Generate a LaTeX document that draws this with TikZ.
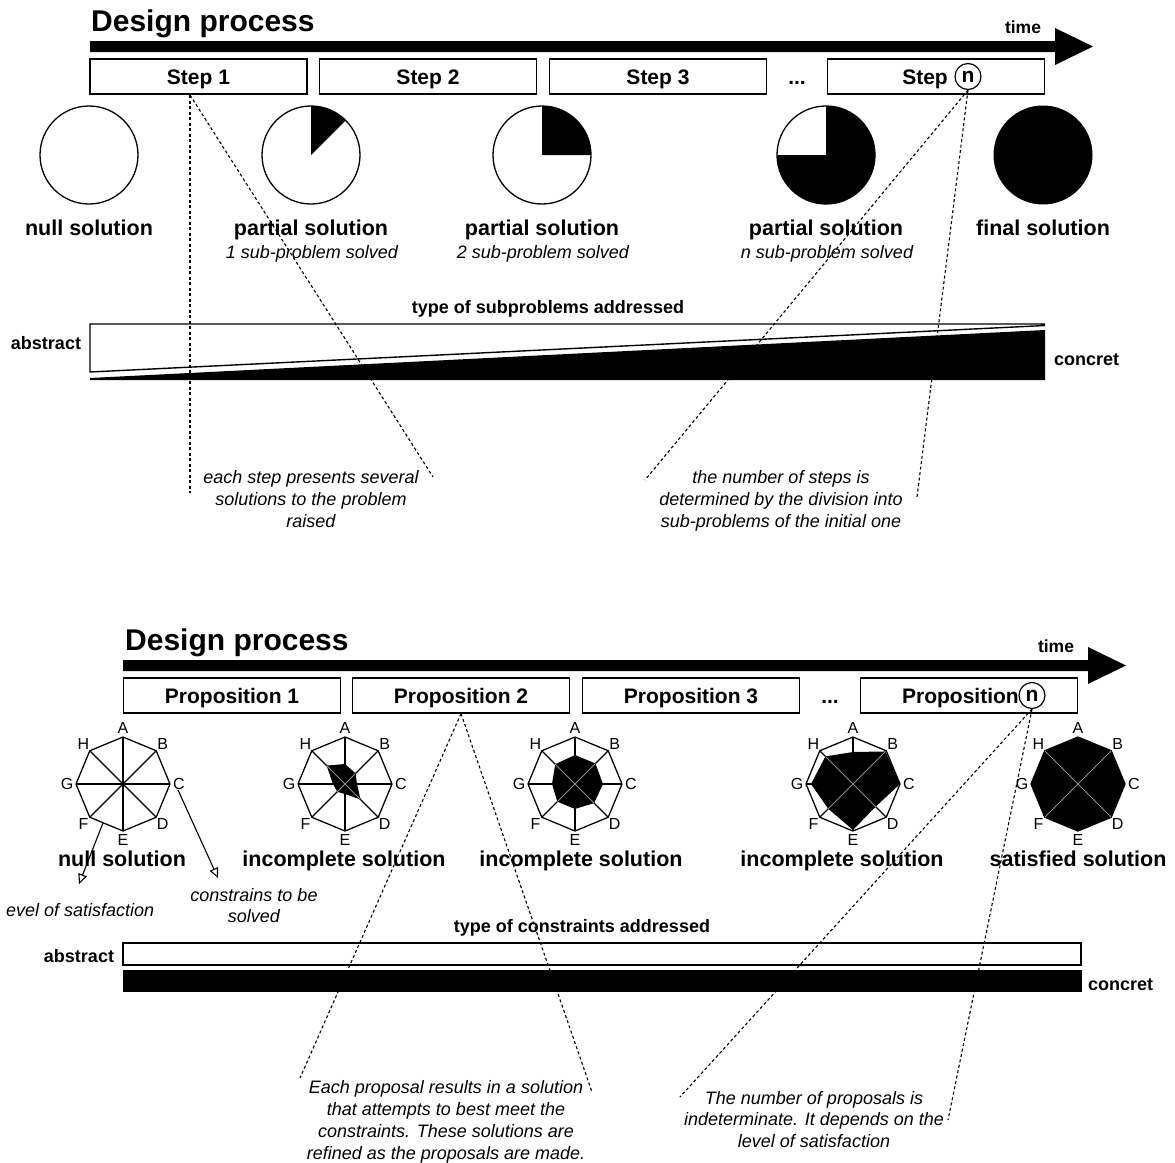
\documentclass[tikz,border=0pt]{standalone}
\usepackage{fontspec}
\setmainfont{Liberation Sans}
\usetikzlibrary{arrows.meta}
\newcommand\myoctagon[1]{%
  \draw[line width=1.3pt,line join=round] (90:47pt)--(45:47pt)--(0:47pt)--(-45:47pt)--(-90:47pt)--(-135:47pt)--(180:47pt)--(135:47pt)--cycle;
  \foreach \ang in {90,45,0,-45}{\draw[line width=1.1pt] (\ang:47pt)--(\ang+180:47pt);}
  \foreach \ang/\l in {90/A,45/B,0/C,-45/D,-90/E,-135/F,180/G,135/H}{\node[rl] (#1\l) at (\ang:56pt) {\l};}
}
\newcommand\mydiag{\draw[black!45,line width=0.8pt] (135:47pt)--(-45:47pt) (45:47pt)--(-135:47pt);}
\begin{document}
\begin{tikzpicture}[x=1pt,y=-1pt,
  box/.style={draw,line width=1.2pt,minimum width=217pt,minimum height=35pt,inner sep=0pt},
  ttl/.style={font=\fontsize{30}{36}\selectfont\bfseries,anchor=base west,inner sep=0pt},
  bl/.style={font=\fontsize{21}{25}\selectfont\bfseries,anchor=base,inner sep=0pt},
  sol/.style={font=\fontsize{21.5}{26}\selectfont\bfseries,anchor=base,inner sep=0pt},
  sub/.style={font=\fontsize{18}{21}\selectfont\itshape,anchor=base,inner sep=0pt},
  sm/.style={font=\fontsize{18}{21}\selectfont\bfseries,anchor=base,inner sep=0pt},
  tm/.style={font=\fontsize{17.5}{21}\selectfont\bfseries,anchor=base,inner sep=0pt},
  note/.style={font=\fontsize{18}{21.75}\selectfont\itshape,align=center,anchor=north,inner sep=0pt},
  rl/.style={font=\fontsize{16}{18}\selectfont,inner sep=0pt},
  ncirc/.style={draw,circle,line width=1.2pt,minimum size=26pt,inner sep=0pt,font=\fontsize{21}{25}\selectfont\bfseries},
  dsh/.style={dash pattern=on 3pt off 2.5pt,line width=1.1pt},
  pie/.style={line width=1.3pt}
]
\useasboundingbox (0,0) rectangle (1175,1162);

%================ TOP =================
\node[ttl] (t1) at (91,31) {Design process};
\node[tm] (time1) at (1023,33) {time};
\fill (90,41) -- (1055,41) -- (1055,28) -- (1093,46.5) -- (1055,65) -- (1055,52) -- (90,52) -- cycle;

\node[box] (s1) at (198.5,76.5) {};
\node[box] (s2) at (428,76.5) {};
\node[box] (s3) at (658,76.5) {};
\node[box] (sn) at (936,76.5) {};
\node[bl] (s1l) at (198.5,84) {Step 1};
\node[bl] (s2l) at (428,84) {Step 2};
\node[bl] (s3l) at (658,84) {Step 3};
\node[bl] (dots1) at (797,84) {...};
\node[bl,anchor=base east] (snl) at (948,84) {Step};
\node[ncirc] (nc1) at (968,76.5) {n};

% pies
\begin{scope}[shift={(89,155)},y=1pt]
  \draw[pie] (0,0) circle[radius=49pt];
\end{scope}
\begin{scope}[shift={(311,155)},y=1pt]
  \draw[pie] (0,0) circle[radius=49pt];
  \fill (0,0) -- (90:49pt) arc[start angle=90,end angle=45,radius=49pt] -- cycle;
\end{scope}
\begin{scope}[shift={(542,155)},y=1pt]
  \draw[pie] (0,0) circle[radius=49pt];
  \fill (0,0) -- (90:49pt) arc[start angle=90,end angle=0,radius=49pt] -- cycle;
\end{scope}
\begin{scope}[shift={(826,155)},y=1pt]
  \draw[pie] (0,0) circle[radius=49pt];
  \fill (0,0) -- (90:49pt) arc[start angle=90,end angle=-180,radius=49pt] -- cycle;
\end{scope}
\begin{scope}[shift={(1043,155)},y=1pt]
  \fill (0,0) circle[radius=49.5pt];
\end{scope}

\node[sol] (l1) at (89,235) {null solution};
\node[sol] (l2) at (311,235) {partial solution};
\node[sol] (l3) at (542,235) {partial solution};
\node[sol] (l4) at (826,235) {partial solution};
\node[sol] (l5) at (1043,235) {final solution};
\node[sub] (u2) at (312,258) {1 sub-problem solved};
\node[sub] (u3) at (543,258) {2 sub-problem solved};
\node[sub] (u4) at (827,258) {n sub-problem solved};

\node[sm] (typ1) at (548,313) {type of subproblems addressed};
\node[sm] (abs1) at (46,349) {abstract};
\node[sm] (con1) at (1086.5,365) {concret};
\draw[line width=1.4pt,line join=miter] (1045,324) -- (90,324) -- (90,372) -- (1045,325.5);
\fill (90,378) -- (1045,330) -- (1045,380) -- (90,380) -- cycle;

\node[note] (n1) at (311,470.5) {each step presents several\\solutions to the problem\\raised};
\node[note] (n2) at (781,470.5) {the number of steps is\\determined by the division into\\sub-problems of the initial one};

\coordinate (d0) at (190,95);
\coordinate (d1) at (190,493);
\coordinate (d2) at (433,477);
\coordinate (d3) at (645,480);
\coordinate (d4) at (917,497);
\draw[dsh] (d0) -- (d1);
\draw[dsh] (d0) -- (d2);
\draw[dsh] (nc1.south) -- (d3);
\draw[dsh] (nc1.south) -- (d4);

%================ BOTTOM =================
\node[ttl] (t2) at (125,650) {Design process};
\node[tm] (time2) at (1056,652) {time};
\fill (123,660) -- (1088,660) -- (1088,647) -- (1126,665.5) -- (1088,684) -- (1088,671) -- (123,671) -- cycle;

\node[box] (p1) at (232,695.5) {};
\node[box] (p2) at (461,695.5) {};
\node[box] (p3) at (691,695.5) {};
\node[box] (pn) at (969,695.5) {};
\node[bl] (p1l) at (232,703) {Proposition 1};
\node[bl] (p2l) at (461,703) {Proposition 2};
\node[bl] (p3l) at (691,703) {Proposition 3};
\node[bl] (dots2) at (830,703) {...};
\node[bl,anchor=base east] (pnl) at (1019,703) {Proposition};
\node[ncirc] (nc2) at (1032,695.5) {n};

% radar charts
\begin{scope}[shift={(123,784)},y=1pt]
  \myoctagon{ra}
\end{scope}
\begin{scope}[shift={(345,784)},y=1pt]
  \def\fB{(90:20pt)--(45:15pt)--(0:12pt)--(-45:22pt)--(-90:10pt)--(-135:11pt)--(180:12pt)--(135:26pt)--cycle}
  \fill \fB;
  \myoctagon{rb}
  \begin{scope}\clip \fB; \mydiag \end{scope}
\end{scope}
\begin{scope}[shift={(575,784)},y=1pt]
  \def\fC{(90:29pt)--(45:29pt)--(0:28pt)--(-45:27pt)--(-90:25pt)--(-135:25pt)--(180:23pt)--(135:28pt)--cycle}
  \fill \fC;
  \myoctagon{rc}
  \begin{scope}\clip \fC; \mydiag \end{scope}
\end{scope}
\begin{scope}[shift={(853,784)},y=1pt]
  \def\fD{(90:32pt)--(45:46pt)--(0:47pt)--(-45:32pt)--(-90:46pt)--(-135:35pt)--(180:42pt)--(135:39pt)--cycle}
  \fill \fD;
  \myoctagon{rd}
  \begin{scope}\clip \fD; \mydiag \end{scope}
\end{scope}
\begin{scope}[shift={(1078,784)},y=1pt]
  \def\fE{(90:47pt)--(45:47pt)--(0:47pt)--(-45:47pt)--(-90:47pt)--(-135:47pt)--(180:47pt)--(135:47pt)--cycle}
  \fill \fE;
  \myoctagon{re}
  \begin{scope}\clip \fE; \mydiag \end{scope}
\end{scope}

\node[sol] (m1) at (122,866) {null solution};
\node[sol] (m2) at (344,866) {incomplete solution};
\node[sol] (m3) at (581,866) {incomplete solution};
\node[sol] (m4) at (842,866) {incomplete solution};
\node[sol] (m5) at (1078,866) {satisfied solution};

\coordinate (a1s) at (103,823);
\coordinate (a1e) at (79,884);
\coordinate (a2s) at (178,790);
\coordinate (a2e) at (218,878);
\draw[line width=1.1pt,-{Triangle[open,length=10pt,width=9pt,line width=1.1pt]}] (a1s) -- (a1e);
\draw[line width=1.1pt,-{Triangle[open,length=10pt,width=9pt,line width=1.1pt]}] (a2s) -- (a2e);
\node[sub,anchor=base west] (sat) at (6,916) {evel of satisfaction};
\node[note,font=\fontsize{18}{21}\selectfont\itshape] (cons) at (254,888) {constrains to be\\solved};

\node[sm] (typ2) at (582,932) {type of constraints addressed};
\node[sm] (abs2) at (79,962) {abstract};
\node[sm] (con2) at (1120.5,990) {concret};
\draw[line width=1.4pt,fill=white] (123,943) rectangle (1081,965);
\fill (122.5,970) rectangle (1081.5,992);

\node[note,font=\fontsize{18}{22}\selectfont\itshape] (n3) at (446,1080) {Each proposal results in a solution\\that attempts to best meet the\\constraints. These solutions are\\refined as the proposals are made.};
\node[note,font=\fontsize{18}{21.5}\selectfont\itshape] (n4) at (814,1091) {The number of proposals is\\indeterminate. It depends on the\\level of satisfaction};

\coordinate (e1) at (300,1078);
\coordinate (e2) at (592,1092);
\coordinate (e3) at (680,1097);
\coordinate (e4) at (948,1120);
\draw[dsh] (p2.south) -- (e1);
\draw[dsh] (p2.south) -- (e2);
\draw[dsh] (nc2.south) -- (e3);
\draw[dsh] (nc2.south) -- (e4);
\end{tikzpicture}
\end{document}
